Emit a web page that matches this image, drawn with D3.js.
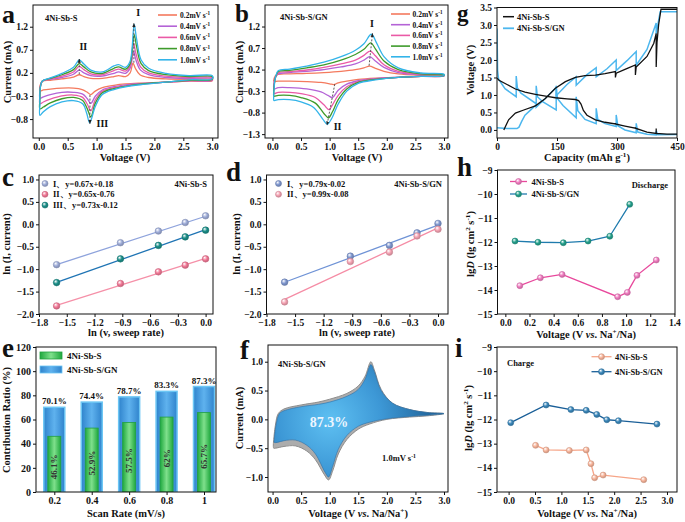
<!DOCTYPE html>
<html><head><meta charset="utf-8">
<script src="https://cdn.jsdelivr.net/npm/d3@7"></script>
<style>
body{margin:0;background:#fff}
svg{display:block}
text{font-family:"Liberation Serif","Times New Roman",serif;font-weight:bold;fill:#111}
</style></head><body>
<svg id="c" width="685" height="522"></svg>
<script>
// ---------------- DATA ----------------
const scanLabels = ["0.2","0.4","0.6","0.8","1.0"];
const cvColors = ["#f47a5e","#b463d6","#ea5aa6","#3e9b2b","#33b4e9"];

// panel a : 4Ni-Sb-S CV curves [V, mA] (anodic then cathodic)
const cvA_02 = [[0.02,-0.08],[0.06,0.02],[0.2,0.04],[0.4,0.07],[0.6,0.11],[0.7,0.16],[0.78,0.12],[0.9,0.08],[1.1,0.08],[1.3,0.12],[1.38,0.14],[1.5,0.12],[1.58,0.2],[1.63,0.41],[1.67,0.3],[1.75,0.16],[1.9,0.1],[2.2,0.07],[2.6,0.06],[3.0,0.06],
  [3.0,0.03],[2.6,0.02],[2.2,0.0],[1.8,-0.02],[1.5,-0.04],[1.3,-0.07],[1.1,-0.12],[0.97,-0.2],[0.9,-0.27],[0.84,-0.22],[0.75,-0.16],[0.6,-0.13],[0.4,-0.13],[0.2,-0.15],[0.08,-0.17],[0.02,-0.19]];
const cvA_04 = [[0.02,-0.2],[0.06,0.02],[0.2,0.06],[0.4,0.1],[0.6,0.17],[0.7,0.26],[0.78,0.2],[0.9,0.14],[1.1,0.13],[1.3,0.19],[1.38,0.22],[1.5,0.19],[1.58,0.3],[1.64,0.66],[1.68,0.48],[1.76,0.26],[1.9,0.16],[2.2,0.1],[2.6,0.08],[3.0,0.08],
  [3.0,0.04],[2.6,0.03],[2.2,0.0],[1.8,-0.03],[1.5,-0.06],[1.3,-0.1],[1.1,-0.17],[0.98,-0.3],[0.9,-0.46],[0.84,-0.36],[0.76,-0.26],[0.6,-0.22],[0.4,-0.22],[0.2,-0.27],[0.08,-0.32],[0.02,-0.35]];
const cvA_06 = [[0.02,-0.3],[0.06,0.02],[0.2,0.07],[0.4,0.13],[0.6,0.22],[0.7,0.34],[0.78,0.27],[0.9,0.18],[1.1,0.16],[1.3,0.25],[1.38,0.28],[1.5,0.24],[1.58,0.35],[1.64,0.84],[1.68,0.62],[1.76,0.33],[1.9,0.2],[2.2,0.13],[2.6,0.1],[3.0,0.1],
  [3.0,0.05],[2.6,0.03],[2.2,0.0],[1.8,-0.04],[1.5,-0.08],[1.3,-0.12],[1.1,-0.2],[0.98,-0.38],[0.9,-0.62],[0.84,-0.48],[0.76,-0.33],[0.6,-0.28],[0.4,-0.3],[0.2,-0.37],[0.08,-0.43],[0.02,-0.47]];
const cvA_08 = [[0.02,-0.4],[0.06,0.02],[0.2,0.08],[0.4,0.16],[0.6,0.27],[0.7,0.4],[0.78,0.33],[0.9,0.22],[1.1,0.19],[1.3,0.3],[1.38,0.33],[1.5,0.28],[1.58,0.4],[1.65,1.03],[1.69,0.78],[1.77,0.4],[1.9,0.25],[2.2,0.16],[2.6,0.12],[3.0,0.12],
  [3.0,0.06],[2.6,0.04],[2.2,0.0],[1.8,-0.04],[1.5,-0.09],[1.3,-0.14],[1.1,-0.23],[0.98,-0.45],[0.9,-0.75],[0.84,-0.58],[0.76,-0.4],[0.6,-0.33],[0.4,-0.36],[0.2,-0.45],[0.08,-0.54],[0.02,-0.58]];
const cvA_10 = [[0.02,-0.5],[0.06,0.02],[0.2,0.09],[0.4,0.19],[0.6,0.32],[0.7,0.48],[0.78,0.39],[0.9,0.26],[1.1,0.22],[1.3,0.35],[1.38,0.38],[1.5,0.32],[1.58,0.45],[1.65,1.25],[1.69,0.95],[1.77,0.48],[1.9,0.3],[2.2,0.19],[2.6,0.14],[3.0,0.14],
  [3.0,0.07],[2.6,0.05],[2.2,0.0],[1.8,-0.05],[1.5,-0.1],[1.3,-0.16],[1.1,-0.27],[0.98,-0.52],[0.88,-0.88],[0.83,-0.68],[0.76,-0.47],[0.6,-0.4],[0.4,-0.43],[0.2,-0.53],[0.08,-0.64],[0.02,-0.72]];

// panel b : 4Ni-Sb-S/GN CV curves
const cvB_02 = [[0.02,-0.07],[0.05,0.05],[0.1,0.09],[0.3,0.1],[0.6,0.11],[0.9,0.13],[1.2,0.16],[1.45,0.2],[1.6,0.24],[1.7,0.28],[1.8,0.23],[1.95,0.16],[2.2,0.1],[2.6,0.07],[3.0,0.06],
  [3.0,0.05],[2.6,0.04],[2.2,0.02],[1.8,0.0],[1.5,-0.03],[1.3,-0.07],[1.15,-0.11],[1.07,-0.15],[1.0,-0.13],[0.85,-0.1],[0.6,-0.08],[0.3,-0.07],[0.1,-0.07],[0.03,-0.08]];
const cvB_04 = [[0.02,-0.2],[0.05,0.02],[0.1,0.1],[0.3,0.13],[0.6,0.16],[0.9,0.2],[1.2,0.26],[1.45,0.33],[1.6,0.42],[1.7,0.5],[1.8,0.4],[1.95,0.25],[2.2,0.13],[2.6,0.08],[3.0,0.07],
  [3.0,0.05],[2.6,0.04],[2.2,0.02],[1.8,-0.01],[1.5,-0.06],[1.3,-0.14],[1.15,-0.28],[1.05,-0.45],[0.97,-0.4],[0.85,-0.32],[0.6,-0.25],[0.3,-0.22],[0.1,-0.22],[0.03,-0.25]];
const cvB_06 = [[0.02,-0.3],[0.05,0.0],[0.1,0.12],[0.3,0.15],[0.6,0.19],[0.9,0.25],[1.2,0.33],[1.45,0.42],[1.6,0.53],[1.71,0.63],[1.8,0.52],[1.95,0.31],[2.2,0.16],[2.6,0.09],[3.0,0.08],
  [3.0,0.06],[2.6,0.04],[2.2,0.02],[1.8,-0.02],[1.5,-0.08],[1.3,-0.2],[1.15,-0.4],[1.05,-0.62],[0.99,-0.73],[0.9,-0.62],[0.75,-0.45],[0.5,-0.36],[0.3,-0.33],[0.1,-0.33],[0.03,-0.36]];
const cvB_08 = [[0.02,-0.38],[0.05,0.0],[0.1,0.15],[0.3,0.18],[0.6,0.24],[0.9,0.31],[1.2,0.42],[1.45,0.55],[1.6,0.67],[1.72,0.82],[1.8,0.68],[1.95,0.4],[2.2,0.2],[2.6,0.1],[3.0,0.08],
  [3.0,0.06],[2.6,0.04],[2.2,0.02],[1.8,-0.03],[1.5,-0.1],[1.3,-0.25],[1.15,-0.5],[1.05,-0.78],[0.98,-0.92],[0.9,-0.82],[0.75,-0.58],[0.5,-0.45],[0.3,-0.4],[0.1,-0.4],[0.03,-0.42]];
const cvB_10 = [[0.02,-0.5],[0.05,0.0],[0.1,0.17],[0.3,0.21],[0.6,0.28],[0.9,0.37],[1.2,0.5],[1.45,0.65],[1.6,0.8],[1.73,1.02],[1.82,0.82],[1.95,0.5],[2.2,0.24],[2.6,0.12],[3.0,0.09],
  [3.0,0.06],[2.6,0.04],[2.2,0.02],[1.8,-0.04],[1.5,-0.12],[1.3,-0.3],[1.15,-0.6],[1.03,-0.95],[0.96,-1.07],[0.88,-0.95],[0.72,-0.68],[0.5,-0.55],[0.3,-0.5],[0.1,-0.5],[0.03,-0.52]];

// panel g : GITT curves [capacity, V]
const gS_dis = [[0,1.48],[5,1.42],[25,1.3],[46,1.17],[70,1.08],[96,1.02],[125,0.96],[146,0.92],[175,0.89],[196,0.87],[204,0.84],[210,0.74],[216,0.56],[225,0.42],[246,0.29],[270,0.22],[296,0.17],[296,0.2],[296,0.17],[320,0.11],[346,0.05],[346,0.08],[346,0.05],[375,-0.06],[398,-0.1],[398,0.04],[398,-0.1],[425,-0.12],[450,-0.12]];
const gS_chg = [[17,0.0],[22,0.12],[29,0.29],[46,0.48],[67,0.57],[96,0.69],[121,0.9],[146,1.19],[171,1.38],[196,1.5],[220,1.55],[246,1.57],[270,1.61],[296,1.67],[296,1.5],[298,1.62],[320,1.73],[346,1.86],[346,1.57],[348,1.8],[375,2.1],[392,2.48],[398,2.76],[398,1.8],[400,2.5],[404,3.0],[410,3.45],[450,3.45]];
const gGN_dis = [[0,2.9],[1.5,1.7],[4,1.45],[20,1.18],[48,0.95],[48,1.54],[51,1.2],[60,1.05],[98,0.75],[98,1.26],[101,0.95],[115,0.8],[148,0.57],[148,1.26],[151,0.9],[165,0.7],[198,0.35],[198,0.95],[202,0.55],[220,0.3],[248,0.18],[248,0.62],[252,0.3],[270,0.18],[298,0.1],[298,0.43],[302,0.12],[320,0.0],[348,-0.08],[348,0.19],[352,-0.06],[375,-0.12],[398,-0.14],[398,-0.02],[402,-0.14],[450,-0.13]];
const gGN_chg = [[0,0.06],[25,0.04],[50,0.04],[55,0.08],[62,0.25],[70,0.42],[85,0.58],[98,0.72],[98,0.65],[125,0.95],[148,1.22],[148,0.98],[175,1.3],[198,1.52],[198,1.28],[225,1.58],[248,1.78],[248,1.52],[275,1.75],[298,2.0],[298,1.7],[325,1.98],[348,2.24],[348,1.85],[375,2.3],[398,3.06],[398,2.75],[402,3.0],[408,3.38],[450,3.38]];

// panel c / d : ln(v) vs ln(I)
const lnRate = [-1.61,-0.92,-0.51,-0.22,0];
const cPeakI = [-0.90,-0.41,-0.15,0.04,0.19];
const cPeakII = [-1.82,-1.32,-1.06,-0.91,-0.77];
const cPeakIII = [-1.30,-0.77,-0.47,-0.28,-0.13];
const cFits = [[0.67,0.18],[0.65,-0.76],[0.73,-0.12]];
const cLegend = ["I、y=0.67x+0.18","II、y=0.65x-0.76","III、y=0.73x-0.12"];
const dPeakI = [-1.29,-0.71,-0.47,-0.19,0.02];
const dPeakII = [-1.73,-0.83,-0.62,-0.26,-0.11];
const dFits = [[0.79,-0.02],[0.99,-0.08]];
const dLegend = ["I、y=0.79x-0.02","II、y=0.99x-0.08"];

// panel e : contribution ratio
const eRates = ["0.2","0.4","0.6","0.8","1"];
const eGN = [70.1,74.4,78.7,83.3,87.3];
const eS = [46.1,52.9,57.5,62,65.7];
const eGNLabels = ["70.1%","74.4%","78.7%","83.3%","87.3%"];
const eSLabels = ["46.1%","52.9%","57.5%","62%","65.7%"];

// panel f : CV 1.0 mV/s total (gray) and capacitive (blue)
const fTotal = [[0.02,-0.35],[0.05,-0.1],[0.1,0.1],[0.2,0.18],[0.5,0.25],[0.8,0.3],[1.0,0.35],[1.3,0.45],[1.5,0.58],[1.62,0.75],[1.72,1.0],[1.78,0.86],[1.9,0.52],[2.1,0.28],[2.4,0.17],[2.7,0.12],[3.0,0.1],
  [2.7,0.06],[2.4,0.04],[2.0,0.0],[1.7,-0.08],[1.5,-0.17],[1.3,-0.35],[1.15,-0.6],[1.05,-0.9],[0.98,-1.05],[0.9,-0.95],[0.75,-0.7],[0.6,-0.55],[0.4,-0.46],[0.2,-0.47],[0.05,-0.5],[0.02,-0.5]];
const fCap = [[0.03,-0.35],[0.06,-0.1],[0.12,0.1],[0.2,0.15],[0.5,0.22],[0.8,0.26],[1.0,0.3],[1.3,0.4],[1.5,0.52],[1.62,0.7],[1.72,0.95],[1.78,0.83],[1.9,0.5],[2.1,0.28],[2.4,0.17],[2.7,0.12],[3.0,0.1],
  [2.7,0.07],[2.4,0.05],[2.0,0.01],[1.7,-0.05],[1.5,-0.12],[1.3,-0.28],[1.15,-0.52],[1.05,-0.82],[0.98,-1.0],[0.92,-0.92],[0.75,-0.6],[0.6,-0.45],[0.4,-0.36],[0.2,-0.37],[0.08,-0.4],[0.03,-0.4]];

// panel h : discharge lgD
const hS_V = [0.12,0.29,0.47,0.93,1.01,1.09,1.25];
const hS_D = [-13.82,-13.49,-13.35,-14.28,-14.10,-13.39,-12.75];
const hGN_V = [0.08,0.27,0.48,0.685,0.865,1.03];
const hGN_D = [-11.96,-12.01,-12.03,-11.96,-11.76,-10.43];
// panel i : charge lgD
const iS_V = [0.51,0.71,1.15,1.47,1.56,1.63,1.79,2.56];
const iS_D = [-13.07,-13.26,-13.28,-13.26,-13.83,-14.41,-14.30,-14.49];
const iGN_V = [0.04,0.71,1.18,1.47,1.67,1.86,2.08,2.81];
const iGN_D = [-12.13,-11.40,-11.59,-11.62,-11.79,-12.01,-12.05,-12.19];

// ---------------- DRAWING ----------------
const svg = d3.select("#c");
const defs = svg.append("defs");
let clipN = 0;

function panel(o){
  const g = svg.append("g");
  const x = o.xScale || d3.scaleLinear().domain(o.xdom).range([o.x0,o.x1]);
  const y = d3.scaleLinear().domain(o.ydom).range([o.y1,o.y0]);
  const id = "clip"+(clipN++);
  defs.append("clipPath").attr("id",id).append("rect")
    .attr("x",o.x0).attr("y",o.y0).attr("width",o.x1-o.x0).attr("height",o.y1-o.y0);
  const plot = g.append("g").attr("clip-path",`url(#${id})`);
  const xa = d3.axisBottom(x).tickSize(3).tickPadding(2).tickSizeOuter(0);
  if(o.xticks) xa.tickValues(o.xticks);
  if(o.xfmt) xa.tickFormat(o.xfmt);
  const ya = d3.axisLeft(y).tickValues(o.yticks).tickFormat(o.yfmt).tickSize(3).tickPadding(2).tickSizeOuter(0);
  const gx = g.append("g").attr("transform",`translate(0,${o.y1})`).call(xa);
  const gy = g.append("g").attr("transform",`translate(${o.x0},0)`).call(ya);
  [gx,gy].forEach(a=>{
    a.select(".domain").remove();
    a.selectAll("line").attr("stroke","#111").attr("stroke-width",1);
    a.selectAll("text").attr("font-size",9.5).attr("fill","#111")
      .attr("font-family","Liberation Serif, serif").attr("font-weight","bold");
  });
  const frame = g.append("rect").attr("x",o.x0).attr("y",o.y0).attr("width",o.x1-o.x0).attr("height",o.y1-o.y0)
    .attr("fill","none").attr("stroke","#111").attr("stroke-width",1);
  return {g, plot, x, y, frame};
}

function rich(sel, parts, fs){
  let shift = 0;
  parts.forEach(p=>{
    if(typeof p === "string") p = {t:p};
    const t = sel.append("tspan").text(p.t);
    const target = p.sup ? -fs*0.38 : 0;
    t.attr("dy", target - shift);
    shift = target;
    if(p.sup) t.attr("font-size", fs*0.68);
    if(p.it) t.attr("font-style","italic");
  });
  return sel;
}
function text(x,y,parts,fs,anchor,rot,fill){
  const t = svg.append("text").attr("font-size",fs).attr("text-anchor",anchor||"start");
  if(rot) t.attr("transform",`translate(${x},${y}) rotate(${rot})`);
  else t.attr("x",x).attr("y",y);
  if(fill) t.style("fill",fill);
  rich(t, Array.isArray(parts)?parts:[parts], fs);
  return t;
}
function letter(x,y,s,fs){ svg.append("text").attr("x",x).attr("y",y).attr("font-size",fs||27).text(s); }

function ballGrad(color){
  const id = "g"+color.replace("#","");
  if(!defs.select("#"+id).empty()) return `url(#${id})`;
  const rg = defs.append("radialGradient").attr("id",id).attr("cx","0.4").attr("cy","0.4").attr("r","0.6").attr("fx","0.35").attr("fy","0.3");
  rg.append("stop").attr("offset","0").attr("stop-color","#ffffff");
  rg.append("stop").attr("offset","0.55").attr("stop-color",color);
  rg.append("stop").attr("offset","1").attr("stop-color",d3.color(color).darker(0.6));
  return `url(#${id})`;
}
function ball(sel,x,y,color,r){
  sel.append("circle").attr("cx",x).attr("cy",y).attr("r",r||3.3)
    .attr("fill",ballGrad(color)).attr("stroke",d3.color(color).darker(0.5)).attr("stroke-width",0.6);
}

defs.append("marker").attr("id","arr").attr("viewBox","0 0 10 10").attr("refX",9).attr("refY",5)
  .attr("markerWidth",5).attr("markerHeight",5).attr("orient","auto-start-reverse")
  .append("path").attr("d","M0,1 L10,5 L0,9 z").attr("fill","#222");

const cvTicksX = [0,0.5,1,1.5,2,2.5,3];
const f1 = d3.format(".1f");

// ===== Panel a =====
const A = panel({x0:33,x1:218,y0:5,y1:138,xdom:[-0.1,3.1],ydom:[-1.21,1.67],xticks:cvTicksX,xfmt:f1,yticks:[1.2,0.7,0.2,-0.3,-0.8],yfmt:f1});
const cvLineA = d3.line().x(d=>A.x(d[0])).y(d=>A.y(d[1])).curve(d3.curveCatmullRom.alpha(0.5));
[cvA_02,cvA_04,cvA_06,cvA_08,cvA_10].forEach((arr,i)=>{
  A.plot.append("path").attr("d",cvLineA(arr.concat([arr[0]]))).attr("fill","none").attr("stroke",cvColors[i]).attr("stroke-width",1.3);
});
[[1.645,0.42,1.645,1.27],[0.7,0.17,0.7,0.5],[0.885,-0.28,0.885,-0.9]].forEach(s=>{
  A.plot.append("line").attr("x1",A.x(s[0])).attr("y1",A.y(s[1])).attr("x2",A.x(s[2])).attr("y2",A.y(s[3]))
    .attr("stroke","#333").attr("stroke-width",0.8).attr("stroke-dasharray","2,1.5").attr("marker-end","url(#arr)");
});
text(A.x(1.72),A.y(1.43),"I",10,"middle");
text(A.x(0.77),A.y(0.7),"II",10,"middle");
text(A.x(1.1),A.y(-0.97),"III",10,"middle");
text(45,21,"4Ni-Sb-S",8.5);
scanLabels.forEach((s,i)=>{
  const yy = 15 + i*11.2;
  svg.append("line").attr("x1",158).attr("x2",177).attr("y1",yy).attr("y2",yy).attr("stroke",cvColors[i]).attr("stroke-width",1.6);
  text(180,yy+2.8,[s+"mV s",{t:"-1",sup:true}],7.5);
});
text(125,161,"Voltage (V)",10.5,"middle");
text(11,72,"Current (mA)",10.5,"middle",-90);
letter(2,23,"a",26);

// ===== Panel b =====
const B = panel({x0:265,x1:448,y0:5,y1:138,xdom:[-0.13,3.07],ydom:[-1.39,1.70],xticks:cvTicksX,xfmt:f1,yticks:[1.2,0.7,0.2,-0.3,-0.8,-1.3],yfmt:f1});
const cvLineB = d3.line().x(d=>B.x(d[0])).y(d=>B.y(d[1])).curve(d3.curveCatmullRom.alpha(0.5));
[cvB_02,cvB_04,cvB_06,cvB_08,cvB_10].forEach((arr,i)=>{
  B.plot.append("path").attr("d",cvLineB(arr.concat([arr[0]]))).attr("fill","none").attr("stroke",cvColors[i]).attr("stroke-width",1.3);
});
[[1.69,0.29,1.75,1.04],[1.09,-0.14,0.955,-1.09]].forEach(s=>{
  B.plot.append("line").attr("x1",B.x(s[0])).attr("y1",B.y(s[1])).attr("x2",B.x(s[2])).attr("y2",B.y(s[3]))
    .attr("stroke","#333").attr("stroke-width",0.8).attr("stroke-dasharray","2,1.5").attr("marker-end","url(#arr)");
});
text(B.x(1.74),B.y(1.2),"I",10,"middle");
text(B.x(1.14),B.y(-1.2),"II",10,"middle");
text(280,20,"4Ni-Sb-S/GN",8.5);
scanLabels.forEach((s,i)=>{
  const yy = 14 + i*10.7;
  svg.append("line").attr("x1",391).attr("x2",410).attr("y1",yy).attr("y2",yy).attr("stroke",cvColors[i]).attr("stroke-width",1.6);
  text(412.5,yy+2.8,[s+"mV s",{t:"-1",sup:true}],7.5);
});
text(357,161,"Voltage (V)",10.5,"middle");
text(243,72,"Current (mA)",10.5,"middle",-90);
letter(235,22,"b",25);

// ===== Panel g =====
const G = panel({x0:497,x1:677,y0:7.5,y1:138,xdom:[0,450],ydom:[-0.23,3.5],xticks:[0,150,300,450],xfmt:d3.format("d"),yticks:[0,0.5,1,1.5,2,2.5,3,3.5],yfmt:f1});
const gl = d3.line().x(d=>G.x(d[0])).y(d=>G.y(d[1]));
G.plot.append("path").attr("d",gl(gGN_dis)).attr("fill","none").attr("stroke","#4db7ee").attr("stroke-width",1.5);
G.plot.append("path").attr("d",gl(gGN_chg)).attr("fill","none").attr("stroke","#4db7ee").attr("stroke-width",1.5);
G.plot.append("path").attr("d",gl(gS_dis)).attr("fill","none").attr("stroke","#111").attr("stroke-width",1.3);
G.plot.append("path").attr("d",gl(gS_chg)).attr("fill","none").attr("stroke","#111").attr("stroke-width",1.3);
svg.append("line").attr("x1",503).attr("x2",514).attr("y1",16.7).attr("y2",16.7).attr("stroke","#111").attr("stroke-width",1.5);
svg.append("line").attr("x1",503).attr("x2",514).attr("y1",28.3).attr("y2",28.3).attr("stroke","#4db7ee").attr("stroke-width",1.8);
text(517,19.7,"4Ni-Sb-S",8.5);
text(517,31.3,"4Ni-Sb-S/GN",8.5);
text(587,161,["Capacity (mAh g",{t:"-1",sup:true},")"],10.5,"middle");
text(474,70,"Voltage (V)",10.5,"middle",-90);
letter(457,21,"g",23);

// ===== Panel c =====
const C = panel({x0:39,x1:213,y0:175,y1:314,xdom:[-1.8,0.08],ydom:[-2.0,1.1],xticks:[-1.8,-1.5,-1.2,-0.9,-0.6,-0.3,0],xfmt:f1,yticks:[-2,-1.5,-1,-0.5,0,0.5,1],yfmt:f1});
const cSeries = [cPeakI,cPeakII,cPeakIII];
const cLineCol = ["#8ea3dc","#f590a8","#1f74b4"];
const cDotCol = ["#9eacd8","#f27896","#1b8e88"];
cSeries.forEach((s,i)=>{
  const f = cFits[i];
  C.plot.append("line").attr("x1",C.x(lnRate[0])).attr("y1",C.y(f[0]*lnRate[0]+f[1]))
    .attr("x2",C.x(lnRate[4])).attr("y2",C.y(f[0]*lnRate[4]+f[1])).attr("stroke",cLineCol[i]).attr("stroke-width",1.3);
  s.forEach((v,j)=>ball(C.plot,C.x(lnRate[j]),C.y(v),cDotCol[i]));
  ball(svg,45,183.5+i*10.8,cDotCol[i],3);
  text(53,186.5+i*10.8,cLegend[i],8.5);
});
text(207,187,"4Ni-Sb-S",8.5,"end");
text(126,336,"ln (v, sweep rate)",10.5,"middle");
text(10,244,"ln (I, current)",10.5,"middle",-90);
letter(2,186,"c",27);

// ===== Panel d =====
const D = panel({x0:266.5,x1:448,y0:175,y1:314,xdom:[-1.8,0.105],ydom:[-2.0,1.1],xticks:[-1.8,-1.5,-1.2,-0.9,-0.6,-0.3,0],xfmt:f1,yticks:[-2,-1.5,-1,-0.5,0,0.5,1],yfmt:f1});
const dSeries = [dPeakI,dPeakII];
const dLineCol = ["#6f93d6","#f58ca5"];
const dDotCol = ["#8098d0","#f5a3b3"];
dSeries.forEach((s,i)=>{
  const f = dFits[i];
  D.plot.append("line").attr("x1",D.x(lnRate[0])).attr("y1",D.y(f[0]*lnRate[0]+f[1]))
    .attr("x2",D.x(lnRate[4])).attr("y2",D.y(f[0]*lnRate[4]+f[1])).attr("stroke",dLineCol[i]).attr("stroke-width",1.3);
  s.forEach((v,j)=>ball(D.plot,D.x(lnRate[j]),D.y(v),dDotCol[i]));
  ball(svg,278.5,183.5+i*10.8,dDotCol[i],3);
  text(287,186.5+i*10.8,dLegend[i],8.5);
});
text(442,187,"4Ni-Sb-S/GN",8.5,"end");
text(357,336,"ln (v, sweep rate)",10.5,"middle");
text(240,244,"ln (I, current)",10.5,"middle",-90);
letter(226,181,"d",27);

// ===== Panel h =====
const H = panel({x0:497.5,x1:675,y0:170,y1:314,xdom:[-0.065,1.405],ydom:[-15,-9],xticks:[0,0.2,0.4,0.6,0.8,1.0,1.2,1.4],xfmt:f1,yticks:[-15,-14,-13,-12,-11,-10,-9],yfmt:d3.format("d")});
const hS_col = "#e8489c", hS_dot = "#f07cc0", hGN_col = "#1f7bad", hGN_dot = "#24a08c";
const lh = d3.line().x(d=>H.x(d[0])).y(d=>H.y(d[1]));
H.plot.append("path").attr("d",lh(hGN_V.map((v,i)=>[v,hGN_D[i]]))).attr("fill","none").attr("stroke",hGN_col).attr("stroke-width",1.3);
H.plot.append("path").attr("d",lh(hS_V.map((v,i)=>[v,hS_D[i]]))).attr("fill","none").attr("stroke",hS_col).attr("stroke-width",1.3);
hGN_V.forEach((v,i)=>ball(H.plot,H.x(v),H.y(hGN_D[i]),hGN_dot,3));
hS_V.forEach((v,i)=>ball(H.plot,H.x(v),H.y(hS_D[i]),hS_dot,3));
[[hS_col,hS_dot,"4Ni-Sb-S",181.5],[hGN_col,hGN_dot,"4Ni-Sb-S/GN",194]].forEach(l=>{
  svg.append("line").attr("x1",510).attr("x2",527).attr("y1",l[3]).attr("y2",l[3]).attr("stroke",l[0]).attr("stroke-width",1.3);
  ball(svg,518.5,l[3],l[1],3);
  text(531.5,l[3]+3,l[2],8.5);
});
text(668,187.5,"Discharge",8.5,"end");
text(586,338,["Voltage (V ",{t:"vs",it:true},". Na",{t:"+",sup:true},"/Na)"],10.5,"middle");
text(474,244,["lg",{t:"D",it:true}," (lg cm",{t:"2",sup:true}," s",{t:"-1",sup:true},")"],10.5,"middle",-90);
letter(457,176,"h",27);

// ===== Panel e =====
const ex = d3.scalePoint().domain(eRates).range([54.3,204]);
const E = panel({x0:36,x1:216,y0:347,y1:492,xScale:ex,ydom:[0,120],yticks:[0,20,40,60,80,100,120],yfmt:d3.format("d")});
const bgB = defs.append("linearGradient").attr("id","bgB").attr("x1","0").attr("x2","1").attr("y1","0").attr("y2","0");
[["0","#2f83cc"],["0.5","#5fb2ee"],["1","#2f83cc"]].forEach(s=>bgB.append("stop").attr("offset",s[0]).attr("stop-color",s[1]));
const bgG = defs.append("linearGradient").attr("id","bgG").attr("x1","0").attr("x2","1").attr("y1","0").attr("y2","0");
[["0","#1fa83e"],["0.5","#7fe08c"],["1","#1fa83e"]].forEach(s=>bgG.append("stop").attr("offset",s[0]).attr("stop-color",s[1]));
const bwB = 21, bwG = 13;
eRates.forEach((r,i)=>{
  const cx = ex(r);
  E.plot.append("rect").attr("x",cx-bwB/2).attr("y",E.y(eGN[i])).attr("width",bwB).attr("height",E.y(0)-E.y(eGN[i]))
    .attr("fill","url(#bgB)").attr("stroke","#6cc6f4").attr("stroke-width",1.5);
  E.plot.append("rect").attr("x",cx-bwG/2).attr("y",E.y(eS[i])).attr("width",bwG).attr("height",E.y(0)-E.y(eS[i]))
    .attr("fill","url(#bgG)").attr("stroke","#22a040").attr("stroke-width",0.8);
  text(cx,E.y(eGN[i])-3,eGNLabels[i],9,"middle");
  text(cx+3,E.y(eS[i]*0.45),eSLabels[i],9,"middle",-90,"#333");
});
E.g.selectAll("g .tick text").attr("font-size",10);
svg.append("rect").attr("x",40).attr("y",352).attr("width",22).attr("height",7).attr("fill","url(#bgG)").attr("stroke","#22a040").attr("stroke-width",0.8);
svg.append("rect").attr("x",40).attr("y",366).attr("width",22).attr("height",7).attr("fill","url(#bgB)").attr("stroke","#6cc6f4").attr("stroke-width",0.8);
text(67,359,"4Ni-Sb-S",9);
text(67,373,"4Ni-Sb-S/GN",9);
text(126,517,"Scan Rate (mV/s)",10.5,"middle");
text(10,420,"Contribution Ratio (%)",10.5,"middle",-90);
letter(2,357,"e",27);

// ===== Panel f =====
const F = panel({x0:268,x1:448,y0:345,y1:492,xdom:[-0.08,3.07],ydom:[-1.26,1.29],xticks:cvTicksX,xfmt:f1,yticks:[-1,-0.5,0,0.5,1],yfmt:f1});
const fl = d3.line().x(d=>F.x(d[0])).y(d=>F.y(d[1])).curve(d3.curveCatmullRom.alpha(0.5));
const rgF = defs.append("radialGradient").attr("id","fBlue").attr("gradientUnits","userSpaceOnUse")
  .attr("cx",330).attr("cy",420).attr("r",115);
[["0","#5ec0f2"],["0.45","#3d98d6"],["1","#1b5a8e"]].forEach(s=>rgF.append("stop").attr("offset",s[0]).attr("stop-color",s[1]));
F.plot.append("path").attr("d",fl(fTotal.concat([fTotal[0]]))).attr("fill","#acacac").attr("stroke","#8e8e8e").attr("stroke-width",1);
F.plot.append("path").attr("d",fl(fCap.concat([fCap[0]]))).attr("fill","url(#fBlue)").attr("stroke","#2a6ea8").attr("stroke-width",0.6);
text(329,427,"87.3%",14,"middle",null,"#eef6ff");
text(278,367,"4Ni-Sb-S/GN",8.5);
text(382,461,["1.0mV s",{t:"-1",sup:true}],8.5);
text(358,517,["Voltage (V ",{t:"vs",it:true},". Na/Na",{t:"+",sup:true},")"],10.5,"middle");
text(243,418,"Current (mA)",10.5,"middle",-90);
letter(240,359,"f",27);

// ===== Panel i =====
const I = panel({x0:497,x1:677,y0:347,y1:492,xdom:[-0.22,3.19],ydom:[-15,-9],xticks:cvTicksX,xfmt:f1,yticks:[-15,-14,-13,-12,-11,-10,-9],yfmt:d3.format("d")});
const iS_col = "#f6a588", iS_dot = "#f8b49a", iGN_col = "#1a5f98", iGN_dot = "#3a87ba";
const li = d3.line().x(d=>I.x(d[0])).y(d=>I.y(d[1]));
I.plot.append("path").attr("d",li(iS_V.map((v,k)=>[v,iS_D[k]]))).attr("fill","none").attr("stroke",iS_col).attr("stroke-width",1.3);
I.plot.append("path").attr("d",li(iGN_V.map((v,k)=>[v,iGN_D[k]]))).attr("fill","none").attr("stroke",iGN_col).attr("stroke-width",1.3);
iS_V.forEach((v,k)=>ball(I.plot,I.x(v),I.y(iS_D[k]),iS_dot,3));
iGN_V.forEach((v,k)=>ball(I.plot,I.x(v),I.y(iGN_D[k]),iGN_dot,3));
[[iS_col,iS_dot,"4Ni-Sb-S",356.7],[iGN_col,iGN_dot,"4Ni-Sb-S/GN",371.7]].forEach(l=>{
  svg.append("line").attr("x1",591.5).attr("x2",611.5).attr("y1",l[3]).attr("y2",l[3]).attr("stroke",l[0]).attr("stroke-width",1.3);
  ball(svg,601.5,l[3],l[1],3);
  text(615,l[3]+3,l[2],8.5);
});
text(507,366,"Charge",8.5);
text(587,517,["Voltage (V ",{t:"vs",it:true},". Na",{t:"+",sup:true},"/Na)"],10.5,"middle");
text(472,418,["lg",{t:"D",it:true}," (lg cm",{t:"2",sup:true}," s",{t:"-1",sup:true},")"],10.5,"middle",-90);
letter(455,357,"i",27);
</script></body></html>
